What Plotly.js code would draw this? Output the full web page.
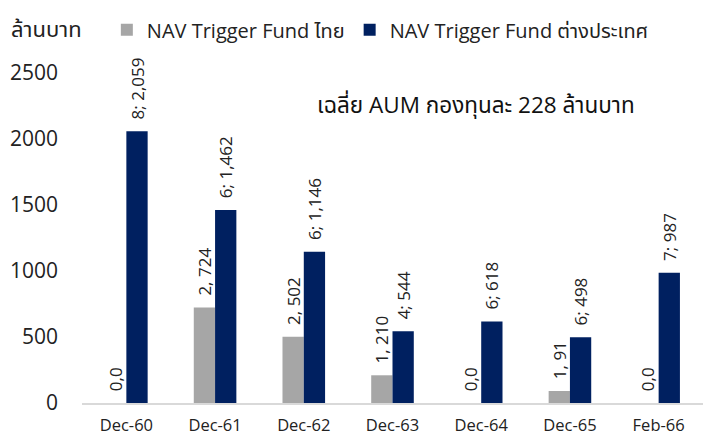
<!DOCTYPE html>
<html><head><meta charset="utf-8">
<script src="https://cdn.plot.ly/plotly-3.0.1.min.js"></script>
<style>body{margin:0;padding:0;background:#fff}#c{width:703px;height:437px}</style>
</head><body><div id="c"></div>
<script>
const categories = ['Dec-60','Dec-61','Dec-62','Dec-63','Dec-64','Dec-65','Feb-66'];
const thaiValues = [0, 724, 502, 210, 0, 91, 0];
const thaiCounts = [0, 2, 2, 1, 0, 1, 0];
const foreignValues = [2059, 1462, 1146, 544, 618, 498, 987];
const foreignCounts = [8, 6, 6, 4, 6, 6, 7];
const yTicks = [0, 500, 1000, 1500, 2000, 2500];

const fmt = v => v.toLocaleString('en-US');
const GAP = '\u00a0\u00a0';
const thaiLabels = thaiValues.map((v,i) => GAP + (v === 0 ? thaiCounts[i] + ',' + v : thaiCounts[i] + ', ' + fmt(v)));
const foreignLabels = foreignValues.map((v,i) => GAP + foreignCounts[i] + '; ' + fmt(v));

const FONT = '"Open Sans", "Noto Sans", "Noto Sans Thai", sans-serif';
const traces = [
  {type:'bar', name:'NAV Trigger Fund ไทย', x:categories, y:thaiValues, text:thaiLabels,
   marker:{color:'#A6A6A6'}, textposition:'outside', textangle:-90, cliponaxis:false,
   constraintext:'none', textfont:{size:17, color:'#222', family:FONT}},
  {type:'bar', name:'NAV Trigger Fund ต่างประเทศ', x:categories, y:foreignValues, text:foreignLabels,
   marker:{color:'#002060'}, textposition:'outside', textangle:-90, cliponaxis:false,
   constraintext:'none', textfont:{size:17, color:'#222', family:FONT}}
];
const layout = {
  width:703, height:437,
  margin:{l:82, r:0, t:73, b:34},
  paper_bgcolor:'#fff', plot_bgcolor:'#fff',
  font:{family:FONT, color:'#222'},
  barmode:'group', bargap:0.52, bargroupgap:0,
  showlegend:true,
  legend:{orientation:'h', x:0.04, y:1.19, xanchor:'left', yanchor:'top',
    font:{size:20, color:'#222'}, itemwidth:30, tracegroupgap:0, bgcolor:'rgba(0,0,0,0)'},
  xaxis:{type:'category', showgrid:false, showline:true, linecolor:'#D9D9D9', linewidth:2,
    ticks:'', tickfont:{size:16.5, color:'#222'}, ticklabelstandoff:6, automargin:false},
  yaxis:{range:[0,2500], tickvals:yTicks, showgrid:false, zeroline:false, showline:false,
    ticks:'', tickfont:{size:21, color:'#222'}, ticklabelstandoff:23, automargin:false},
  annotations:[
    {text:'ล้านบาท', xref:'paper', yref:'paper', x:-0.118, y:1.135, xanchor:'left', yanchor:'middle',
     showarrow:false, font:{size:22, color:'#222'}},
    {text:'เฉลี่ย AUM กองทุนละ 228 ล้านบาท', xref:'paper', yref:'paper', x:0.634, y:0.905,
     xanchor:'center', yanchor:'middle', showarrow:false, font:{size:22.5, color:'#111'}}
  ]
};
Plotly.newPlot('c', traces, layout, {displayModeBar:false, staticPlot:true});
</script></body></html>
